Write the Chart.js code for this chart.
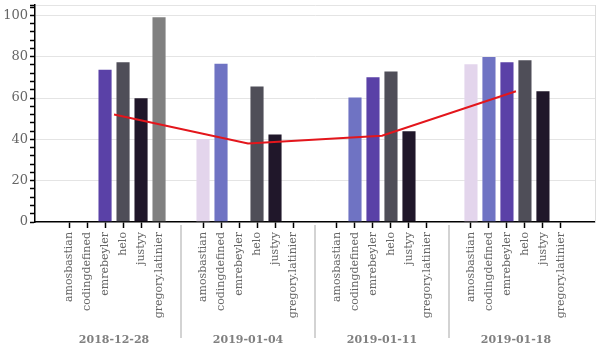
<!DOCTYPE html>
<html>
<head>
<meta charset="utf-8">
<script src="https://cdn.jsdelivr.net/npm/chart.js@4.4.1/dist/chart.umd.min.js"></script>
<style>
  html, body { margin: 0; padding: 0; background: #fff; }
  #wrap { width: 600px; height: 350px; }
</style>
</head>
<body>
<div id="wrap"><canvas id="chart"></canvas></div>
<script>
// weeks on the outer axis, contributors inside each week
const weeks = ['2018-12-28', '2019-01-04', '2019-01-11', '2019-01-18'];
const names = ['amosbastian', 'codingdefined', 'emrebeyler', 'helo', 'justyy', 'gregory.latinier'];

const amosbastian     = [null, 40.7, null, 76.8];
const codingdefined   = [null, 77.0, 60.7, 80.3];
const emrebeyler      = [74.2, null, 70.5, 77.8];
const helo            = [77.8, 66.0, 73.3, 78.7];
const justyy          = [60.4, 42.8, 44.4, 63.8];
const gregoryLatinier = [99.5, null, null, null];
const average         = [52.0, 38.0, 41.7, 63.3];

const yMax = 105;
const yMajorStep = 20;
const yMinorStep = 4;

const series = [amosbastian, codingdefined, emrebeyler, helo, justyy, gregoryLatinier];
const colors = ['#e3d5ec', '#6f73c3', '#5a41a7', '#4f4e58', '#20172a', '#808080'];

const xMin = -0.59, xMax = 3.59;
const catPct = 0.806;

Chart.defaults.font.family = "'DejaVu Serif', serif";
Chart.defaults.color = '#666';

const barSets = names.map((n, k) => ({
  type: 'bar',
  label: n,
  order: 1,
  data: weeks.map((w, i) => ({ x: i, y: series[k][i] })),
  backgroundColor: colors[k],
  borderColor: 'rgba(255,255,255,0.25)',
  borderWidth: 1,
  categoryPercentage: catPct,
  barPercentage: 0.84,
  xAxisID: 'groups',
  yAxisID: 'y'
}));

const lineSet = {
  type: 'line',
  label: 'average',
  order: 0,
  data: weeks.map((w, i) => ({ x: i, y: average[i] })),
  borderColor: '#e3161c',
  borderWidth: 2,
  pointRadius: 0,
  tension: 0,
  fill: false,
  xAxisID: 'groups',
  yAxisID: 'y'
};

// vertical separators between the week groups, under the axis
const groupDividers = {
  id: 'groupDividers',
  afterDraw(chart) {
    const x = chart.scales.groups, ctx = chart.ctx;
    const top = chart.chartArea.bottom + 3, bottom = chart.height - 12;
    ctx.save();
    ctx.strokeStyle = '#d3d3d3';
    ctx.lineWidth = 2;
    for (let g = 1; g < weeks.length; g++) {
      const px = Math.round(x.getPixelForValue(g - 0.5));
      ctx.beginPath();
      ctx.moveTo(px, top);
      ctx.lineTo(px, bottom);
      ctx.stroke();
    }
    ctx.restore();
  }
};

new Chart(document.getElementById('chart'), {
  data: { datasets: [lineSet, ...barSets] },
  plugins: [groupDividers],
  options: {
    responsive: true,
    maintainAspectRatio: false,
    animation: false,
    layout: { padding: { top: 5, left: 0, right: 0, bottom: 0 } },
    plugins: { legend: { display: false }, tooltip: { enabled: false } },
    scales: {
      names: {
        type: 'linear', position: 'bottom', min: xMin, max: xMax, weight: 0, offset: false,
        afterBuildTicks: s => {
          const chunk = catPct / names.length;
          s.ticks = weeks.flatMap((w, g) => names.map((n, k) =>
            ({ value: g + (k - (names.length - 1) / 2) * chunk })));
        },
        afterFit: s => { s.height = 100; },
        border: { display: true, color: '#000', width: 1.5 },
        grid: { drawOnChartArea: false, drawTicks: true, tickLength: 6, tickColor: '#000', tickWidth: 1.5 },
        ticks: {
          autoSkip: false, minRotation: 90, maxRotation: 90, padding: 4,
          font: { size: 11 }, color: '#666',
          callback: (v, i) => names[i % names.length]
        }
      },
      groups: {
        type: 'linear', position: 'bottom', min: xMin, max: xMax, weight: 1, offset: false,
        afterBuildTicks: s => { s.ticks = weeks.map((w, i) => ({ value: i })); },
        afterFit: s => { s.height = 28; },
        border: { display: false },
        grid: { display: false },
        ticks: {
          autoSkip: false, maxRotation: 0, padding: 4,
          font: { size: 11, weight: 'bold' }, color: '#808080',
          callback: (v, i) => weeks[i]
        }
      },
      y: {
        type: 'linear', min: 0, max: yMax,
        afterBuildTicks: s => {
          const t = [];
          for (let v = 0; v <= yMax; v += yMinorStep) t.push({ value: v });
          t.push({ value: yMax });
          s.ticks = t;
        },
        afterFit: s => { s.width = 35; s.paddingTop = 0; s.paddingBottom = 0; },
        border: { display: true, color: '#000', width: 1.5 },
        grid: {
          drawTicks: true, tickLength: 5, tickWidth: 1.5, tickColor: '#000', lineWidth: 1,
          color: c => (c.tick.value === 0 ? 'rgba(0,0,0,0)'
            : (c.tick.value % yMajorStep === 0 || c.tick.value === yMax) ? '#e4e4e4' : 'rgba(0,0,0,0)')
        },
        ticks: {
          autoSkip: false, padding: 2, font: { size: 13 }, color: '#666',
          callback: v => (v % yMajorStep === 0 && v !== yMax ? v : '')
        }
      },
      y2: {
        type: 'linear', position: 'right', min: 0, max: yMax, display: true,
        afterFit: s => { s.width = 5; s.paddingTop = 0; s.paddingBottom = 0; },
        border: { display: true, color: '#dcdcdc', width: 1 },
        grid: { display: false },
        ticks: { display: false }
      }
    }
  }
});
</script>
</body>
</html>
